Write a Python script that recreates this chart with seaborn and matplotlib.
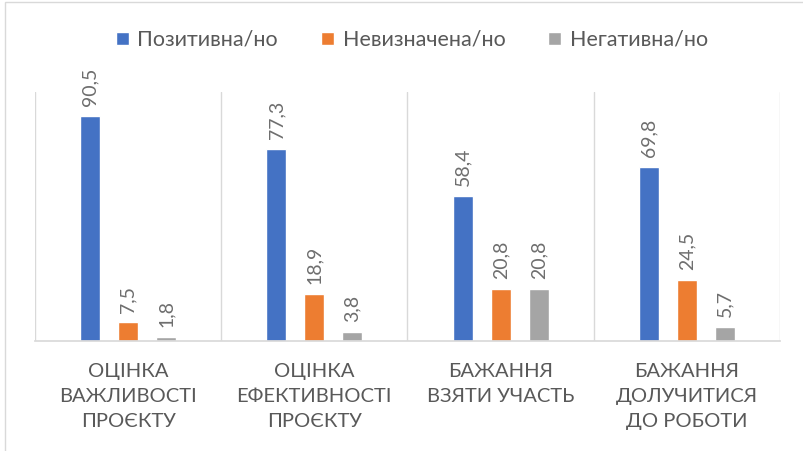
import numpy as np
import pandas as pd
import matplotlib.pyplot as plt
import seaborn as sns
from matplotlib.patches import Rectangle

categories = ['ОЦІНКА\nВАЖЛИВОСТІ\nПРОЄКТУ', 'ОЦІНКА\nЕФЕКТИВНОСТІ\nПРОЄКТУ',
              'БАЖАННЯ\nВЗЯТИ УЧАСТЬ', 'БАЖАННЯ\nДОЛУЧИТИСЯ\nДО РОБОТИ']
series = ['Позитивна/но', 'Невизначена/но', 'Негативна/но']
positive = [90.5, 77.3, 58.4, 69.8]
uncertain = [7.5, 18.9, 20.8, 24.5]
negative = [1.8, 3.8, 20.8, 5.7]
colors = ['#4472C4', '#ED7D31', '#A5A5A5']

df = pd.DataFrame({
    'category': categories * 3,
    'series': [series[0]] * 4 + [series[1]] * 4 + [series[2]] * 4,
    'value': positive + uncertain + negative,
})

sns.set_theme(style='white')
plt.rcParams['font.family'] = ['Lato', 'Noto Sans', 'DejaVu Sans']
text_color = '#595959'

fig = plt.figure(figsize=(8.04, 4.51), dpi=100)
ax = fig.add_axes([35 / 804, 1 - 341 / 451, 745 / 804, 249 / 451])

sns.barplot(data=df, x='category', y='value', hue='series', palette=colors,
            width=0.612, gap=0.475, saturation=1, ax=ax, legend=True)

for cont in ax.containers:
    labels = [f'{b.get_height():.1f}'.replace('.', ',') for b in cont]
    ax.bar_label(cont, labels=labels, rotation=90, padding=7,
                 fontsize=14, color='#6E6E6E')

ax.set_xlim(-0.5, 3.5)
ax.set_ylim(0, 100)
ax.set_xlabel('')
ax.set_ylabel('')
ax.set_yticks([])
for x in np.arange(-0.5, 4.0, 1.0):
    ax.axvline(x, color='#D9D9D9', lw=1, zorder=0)
for s in ['top', 'right', 'left']:
    ax.spines[s].set_visible(False)
ax.spines['bottom'].set_color('#D9D9D9')
ax.tick_params(axis='x', length=0, pad=16, labelsize=14.5, labelcolor=text_color)
for t in ax.get_xticklabels():
    t.set_linespacing(1.55)

handles, lbls = ax.get_legend_handles_labels()
ax.get_legend().remove()
fig.legend(handles, lbls, loc='center', bbox_to_anchor=(412 / 804, 1 - 40 / 451),
           ncol=3, frameon=False, fontsize=15.5, labelcolor=text_color,
           handlelength=0.6, handleheight=0.6, handletextpad=0.4, columnspacing=2.0)

fig.patches.append(Rectangle((5 / 804, -0.1), 2, 1.1 - 2 / 451, transform=fig.transFigure,
                             fill=False, edgecolor='#D9D9D9', lw=1))

fig.savefig('out.png', dpi=100)
